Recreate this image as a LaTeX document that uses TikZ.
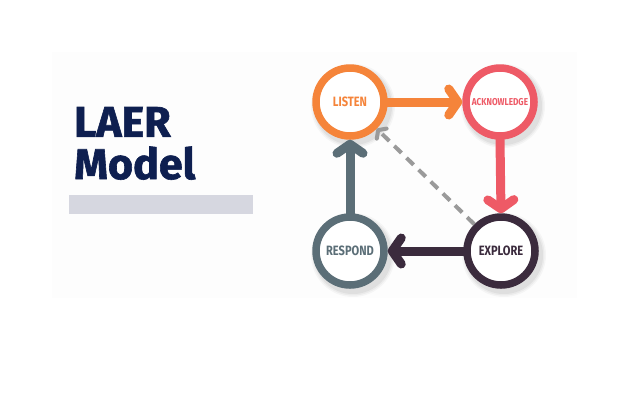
\documentclass[tikz,border=0pt]{standalone}
\usepackage{fontspec}
\setmainfont{Fira Sans}
\newfontfamily\titlefont{Fira Sans}[BoldFeatures={FakeBold=1.4}]
\newfontfamily\labelfont{Fira Sans}[FakeStretch=0.82]
\usetikzlibrary{arrows.meta}

\definecolor{navy}{HTML}{0E1F50}
\definecolor{barclr}{HTML}{D6D7E0}
\definecolor{panel}{HTML}{FDFDFD}
\definecolor{cListen}{HTML}{F5843A}
\definecolor{cAck}{HTML}{EE5A66}
\definecolor{cExplore}{HTML}{3B2B3D}
\definecolor{cRespond}{HTML}{5B6E77}
\definecolor{cDash}{HTML}{9A9A9A}

\tikzset{
  stage/.style={circle, draw=#1, line width=7.5bp, fill=white, minimum size=68bp,
    inner sep=0pt, text=#1, font=\labelfont\bfseries\fontsize{13.5bp}{15bp}\selectfont},
  small label/.style={font=\labelfont\bfseries\fontsize{10bp}{12bp}\selectfont},
  flow/.style={draw=#1, line width=9bp, line cap=round,
    -{Straight Barb[length=9bp, width=26bp, round]}},
  hint/.style={draw=cDash, line width=4bp, dash pattern=on 10bp off 7bp,
    -{Straight Barb[length=5bp, width=14bp, round]}},
}

\begin{document}
\begin{tikzpicture}[x=1bp, y=-1bp]
  % page and faint panel
  \fill[white] (0,0) rectangle (640,400);
  \useasboundingbox (0,0) rectangle (640,400);
  \fill[panel] (52,52) rectangle (577,298);

  % title and underline bar
  \node[anchor=south west, inner sep=0pt, text=navy,
        font=\titlefont\bfseries\fontsize{43bp}{46bp}\selectfont] (t1) at (74,137) {LAER};
  \node[anchor=south west, inner sep=0pt, text=navy,
        font=\titlefont\bfseries\fontsize{43bp}{46bp}\selectfont] (t2) at (74,180) {Model};
  \fill[barclr] (69,195) rectangle (253,214);

  % soft drop shadows under the rings
  \foreach \cx/\cy in {350/102, 500/102, 501/251, 350/251}{
    \foreach \r/\o in {42/0.03, 40.5/0.04, 39/0.05}{
      \fill[black, opacity=\o] (\cx+3,\cy+4) circle[radius=\r];
    }
  }

  % stages
  \node[stage=cListen]  (L) at (350,102) {LISTEN};
  \node[stage=cAck, small label] (A) at (500,102) {ACKNOWLEDGE};
  \node[stage=cExplore] (E) at (501,251) {EXPLORE};
  \node[stage=cRespond] (R) at (350,251) {RESPOND};

  % cycle arrows
  \draw[flow=cListen]  (L.east)  -- (A.west);
  \draw[flow=cAck]     (A.south) -- (E.north);
  \draw[flow=cExplore] (E.west)  -- (R.east);
  \draw[flow=cRespond] (R.north) -- (L.south);
  \draw[hint] (E.135) -- (L.-45);
\end{tikzpicture}
\end{document}
